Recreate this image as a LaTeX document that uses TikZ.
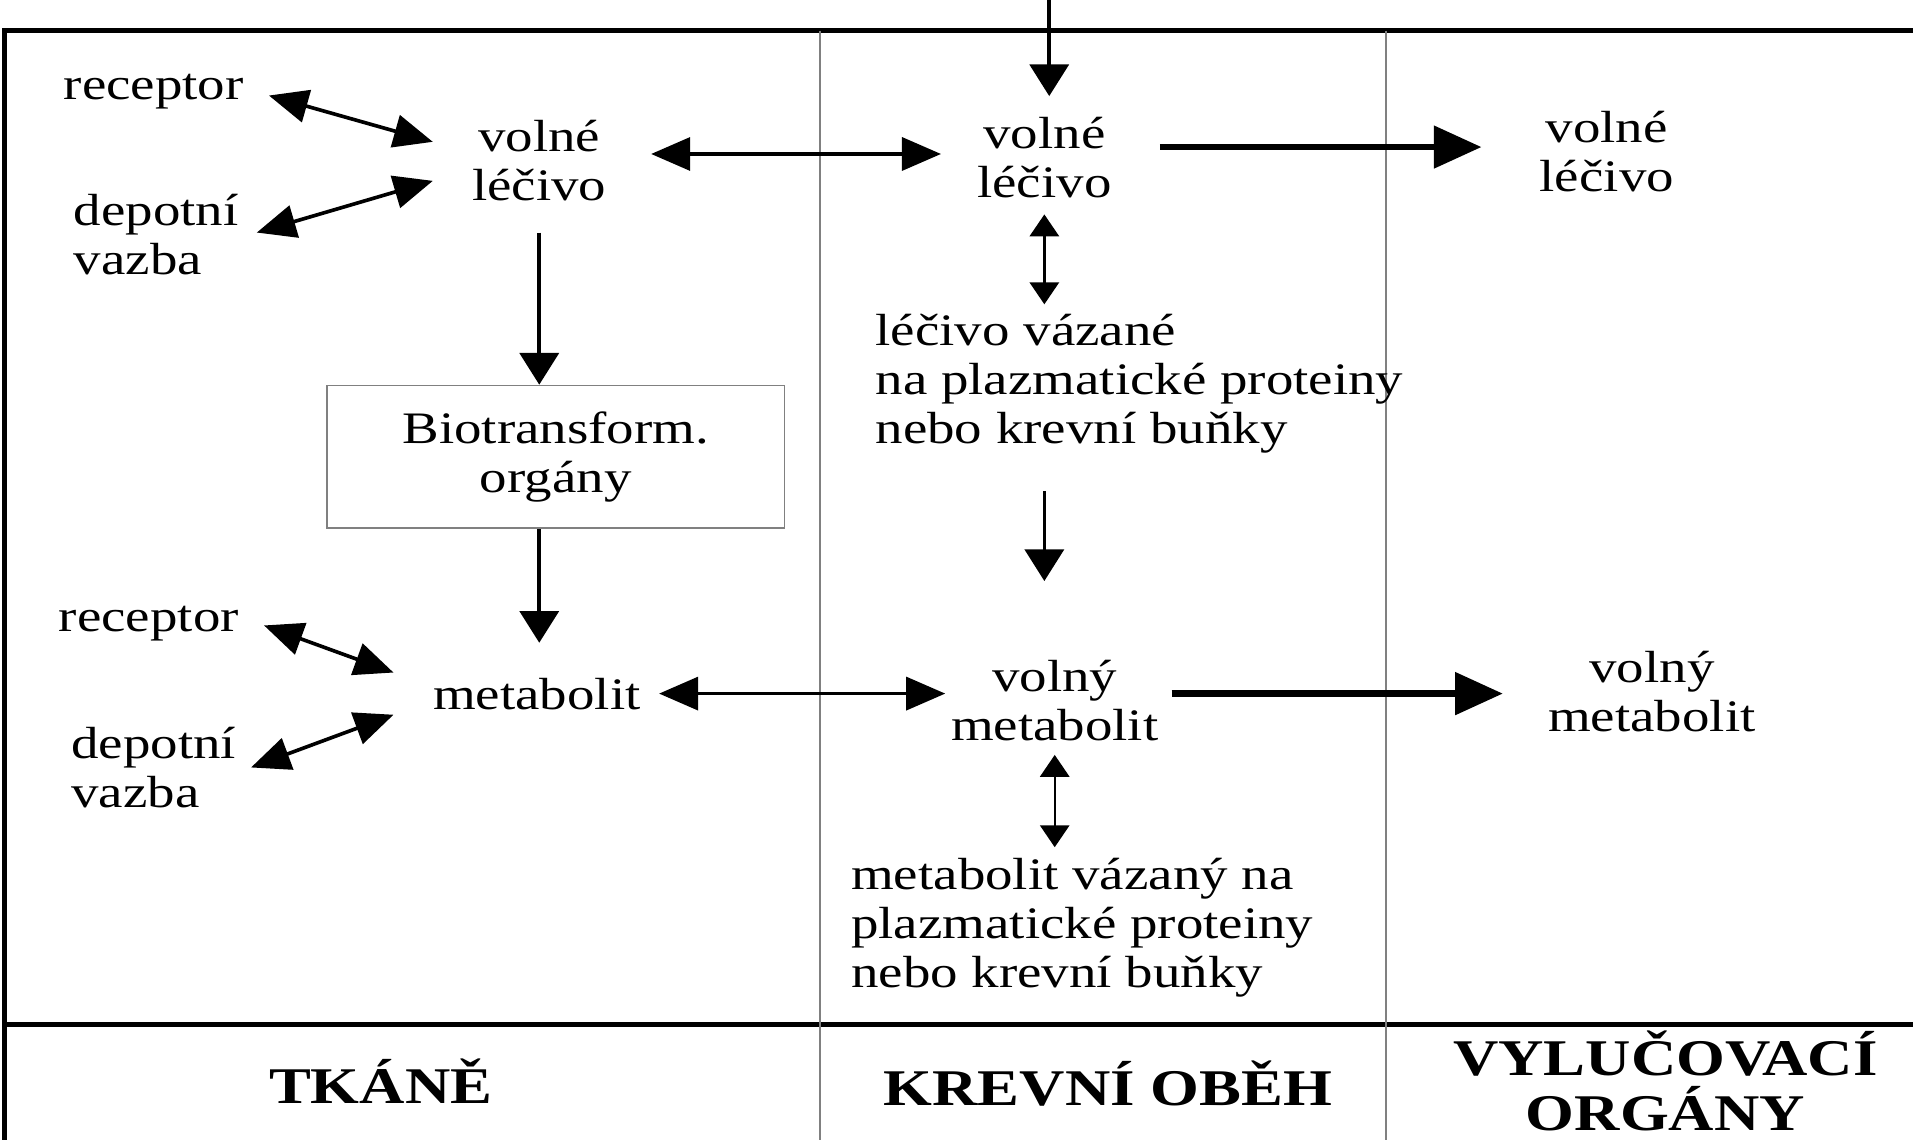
\documentclass[tikz,border=0pt]{standalone}
\usepackage{fontspec}
\setmainfont{Liberation Serif}[FakeStretch=1.22]
\usetikzlibrary{arrows.meta}

\begin{document}
\begin{tikzpicture}[
  lbl/.style={inner sep=2mm, align=center, font=\fontsize{10.5}{11.4}\selectfont},
  colhead/.style={align=center, font=\fontsize{12}{12.8}\selectfont\bfseries},
  twoway/.style={line width=.85pt, {Triangle[length=3.2mm,width=2.7mm]}-{Triangle[length=3.2mm,width=2.7mm]}},
  oneway/.style={line width=.85pt, -{Triangle[length=2.6mm,width=3.2mm]}},
  fatarr/.style={line width=1.5pt, -{Triangle[length=3.9mm,width=3.4mm]}},
  smallway/.style={line width=.55pt, {Triangle[length=1.8mm,width=2.4mm]}-{Triangle[length=1.8mm,width=2.4mm]}}]
\useasboundingbox (0,0) rectangle (15.68,9.34);
\draw[line width=1.2pt] (15.68,9.09) -- (0.04,9.09) -- (0.04,0);
\draw[line width=1.2pt] (0.04,0.94) -- (15.68,0.94);
\draw[gray, line width=.4pt] (6.72,9.09) -- (6.72,0) (11.36,9.09) -- (11.36,0);

\node[lbl] (rec1) at (1.26,8.59) {receptor};
\node[lbl] (vl1) at (4.42,8.025) {volné\\léčivo};
\node[lbl,align=left] (dep1) at (1.28,7.42) {depotní\\vazba};
\node[lbl] (vl2) at (8.56,8.045) {volné\\léčivo};
\node[lbl] (vl3) at (13.17,8.095) {volné\\léčivo};
\node[lbl,align=left,anchor=west] (vaz1) at (6.97,6.195) {léčivo vázané\\na plazmatické proteiny\\nebo krevní buňky};
\node[lbl,draw=gray,line width=.4pt,minimum width=3.75cm,minimum height=1.17cm] (bio) at (4.555,5.595) {Biotransform.\\orgány};
\node[lbl] (rec2) at (1.22,4.23) {receptor};
\node[lbl] (met) at (4.40,3.655) {metabolit};
\node[lbl,align=left] (dep2) at (1.26,3.05) {depotní\\vazba};
\node[lbl] (vm2) at (8.645,3.595) {volný\\metabolit};
\node[lbl] (vm3) at (13.54,3.675) {volný\\metabolit};
\node[lbl,align=left,anchor=west] (vaz2) at (6.77,1.735) {metabolit vázaný na\\plazmatické proteiny\\nebo krevní buňky};
\coordinate (src) at (8.60,9.34);

\node[colhead] (tk) at (3.12,0.48) {TKÁNĚ};
\node[colhead] (ko) at (9.08,0.46) {KREVNÍ OBĚH};
\node[colhead] (vo) at (13.65,0.48) {VYLUČOVACÍ\\ORGÁNY};

\draw[oneway,shorten >=-.3mm] (src) -- (src |- vl2.north);
\draw[twoway,shorten >=1.2mm] (rec1.-2) -- (vl1.171);
\draw[twoway,shorten <=-.6mm,shorten >=1.2mm] (dep1.2) -- (vl1.190);
\draw[twoway,shorten <=1.6mm,shorten >=.9mm] (vl1.4) -- (vl1.4 -| vl2.west);
\draw[fatarr,shorten <=1.9mm,shorten >=2.7mm] (vl2.east |- vl3.177) -- (vl3.177);
\draw[smallway,shorten <=-.75mm,shorten >=-1.25mm] (vl2.south) -- (vl2.south |- vaz1.north);
\draw[oneway,shorten <=.55mm] (vl1.south) -- (vl1.south |- bio.north);
\draw[oneway,shorten >=.8mm] (vl1.south |- bio.south) -- (vl1.south |- met.north);
\draw[oneway,shorten <=1.05mm,shorten >=4.45mm] (vl2.south |- vaz1.south) -- (vl2.south |- vm2.north);
\draw[twoway,shorten >=1.25mm] (rec2.-1) -- (met.173);
\draw[twoway,shorten <=-.9mm,shorten >=1.25mm] (dep2.2) -- (met.187);
\draw[twoway,shorten <=-.55mm,shorten >=-1.6mm] (met.east) -- (met.east -| vm2.west);
\draw[fatarr,shorten <=-1mm,shorten >=1.65mm] (met.east -| vm2.east) -- (met.east -| vm3.west);
\draw[smallway,shorten <=-.95mm,shorten >=-1.15mm] (vm2.south) -- (vm2.south |- vaz2.north);
\end{tikzpicture}
\end{document}
